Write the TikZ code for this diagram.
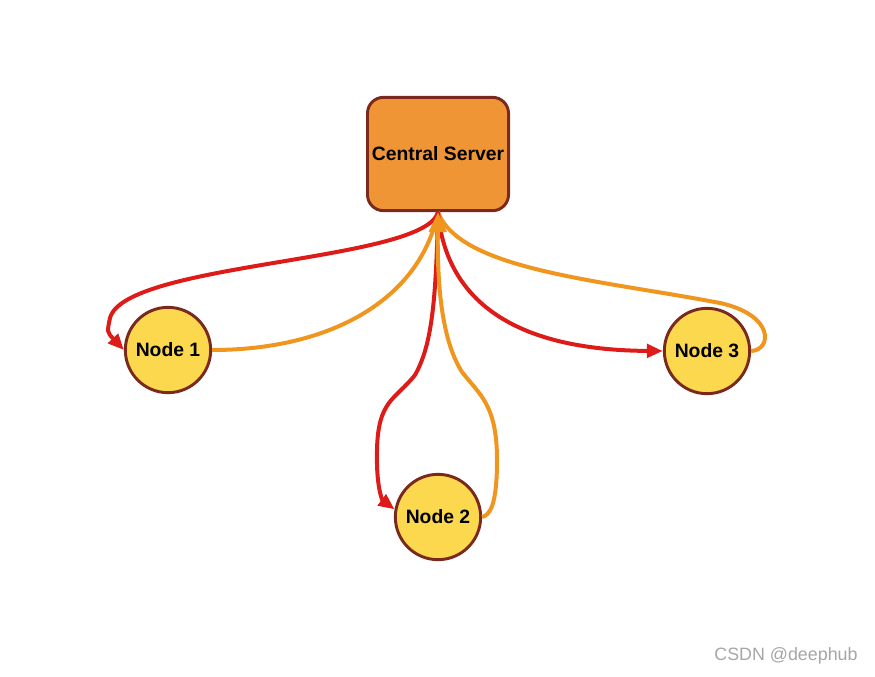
\documentclass[tikz,border=0pt]{standalone}
\usepackage{fontspec}
\setmainfont{Liberation Sans}
\usetikzlibrary{arrows.meta}
\definecolor{srvfill}{HTML}{EF9535}
\definecolor{rim}{HTML}{7A2A1C}
\definecolor{nodefill}{HTML}{FCD84F}
\definecolor{sendred}{HTML}{DD1C1A}
\definecolor{backorange}{HTML}{F0951E}
\begin{document}
\begin{tikzpicture}[x=0.75pt, y=-0.75pt,
				    server/.style={draw=rim, line width=2.2pt, fill=srvfill, rounded corners=12pt,
				    			  minimum width=104pt, minimum height=85pt, text centered, text=black,
				    			  font=\fontsize{14.5}{17}\selectfont\bfseries},
				    client/.style={circle, draw=rim, line width=2.2pt, fill=nodefill, inner sep=0pt,
				    			  minimum size=64pt, text=black, font=\fontsize{14.5}{17}\selectfont\bfseries},
				    send/.style={draw=sendred, line width=3pt, -{Triangle[length=12pt,width=10pt]}},
				    back/.style={draw=backorange, line width=3pt}]
	\useasboundingbox (0, 0) rectangle (875, 676);
	\node[server] (cs) at (438, 154) {Central Server};
	\node[client] (n1) at (168, 350) {Node 1};
	\node[client] (n2) at (438, 517) {Node 2};
	\node[client] (n3) at (707, 351) {Node 3};
	% updates going back to the server
	\draw[back] (n1.east) .. controls (330, 350) and (420, 300) .. (cs.south);
	\draw[back] (n3.east) .. controls (772, 350) and (775, 315) .. (720, 303)
	            .. controls (600, 280) and (460, 270) .. (cs.south);
	% model sent out to the nodes
	\draw[send] (cs.south) .. controls (425, 262) and (125, 262) .. (110, 318)
	            .. controls (107, 332) .. (n1.west);
	\draw[send] (cs.south) .. controls (436, 300) and (432, 345) .. (415, 375)
	            .. controls (395, 400) and (378, 400) .. (377, 450)
	            .. controls (376, 485) and (382, 500) .. (n2.170);
	\draw[send] (cs.south) .. controls (445, 290) and (500, 350) .. (n3.west);
	\draw[back, -{Triangle[length=15pt,width=13pt]}] (n2.east) .. controls (490, 515) and (497, 505) .. (497, 460)
	            .. controls (497, 405) and (480, 395) .. (462, 372)
	            .. controls (445, 345) and (437, 300) .. (cs.south);
	\node[text=gray!70, font=\fontsize{13.4}{15}\selectfont] (mark) at (786, 656) {CSDN @deephub};
\end{tikzpicture}
\end{document}
